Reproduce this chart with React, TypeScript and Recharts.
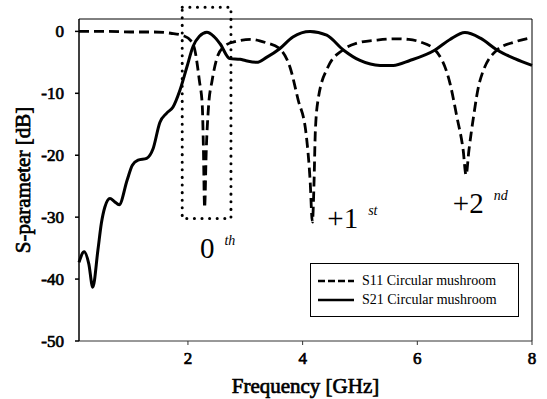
import React from "react";
import {
  LineChart,
  Line,
  XAxis,
  YAxis,
  Legend,
  Label,
  ReferenceArea,
  ReferenceDot,
  ReferenceLine,
} from "recharts";

// S11 of the circular mushroom cell (GHz / dB)
const s11Freq = [
  0.1, 0.6, 1.0, 1.4, 1.7, 1.92, 2.05, 2.12, 2.2, 2.25, 2.27, 2.29, 2.32, 2.36,
  2.42, 2.5, 2.62, 2.8, 3.1, 3.35, 3.6, 3.78, 3.92, 4.06, 4.13, 4.17, 4.2, 4.22,
  4.27, 4.44, 4.7, 4.95, 5.3, 5.6, 5.85, 6.05, 6.31, 6.57, 6.69, 6.8, 6.85, 6.9,
  6.98, 7.08, 7.39, 7.7, 8.0,
];
const s11Db = [
  0, 0, -0.1, -0.1, -0.3, -0.7, -1.5, -3, -8, -12, -19, -28.5, -19, -12, -8,
  -4.5, -2.5, -1.7, -1.3, -1.8, -2.8, -5.8, -11, -16.5, -24, -30.8, -24, -16.5,
  -11, -5.8, -3, -1.9, -1.4, -1.2, -1.3, -1.7, -3, -8.4, -13.8, -19.2, -23.2,
  -19.2, -13.8, -8.4, -3, -1.7, -1.0,
];

// S21 of the circular mushroom cell (GHz / dB)
const s21Freq = [
  0.1, 0.19, 0.27, 0.34, 0.43, 0.49, 0.55, 0.64, 0.72, 0.8, 0.94, 1.03, 1.13,
  1.28, 1.39, 1.51, 1.63, 1.74, 1.86, 1.98, 2.09, 2.2, 2.33, 2.45, 2.56, 2.73,
  2.91, 3.0, 3.2, 3.37, 3.6, 3.83, 4.13, 4.42, 4.71, 5.0, 5.35, 5.58, 5.87,
  6.31, 6.57, 6.83, 7.1, 7.39, 7.7, 8.0,
];
const s21Db = [
  -37.3, -35.6, -37.5, -41.3, -35.3, -31, -28.4, -27, -27.5, -28, -24, -21.6,
  -20.8, -20.5, -19, -14.7, -13.2, -12.2, -9.5, -5.8, -2.4, -0.8, -0.15, -0.8,
  -2, -4.4, -4.5, -4.7, -5, -4.2, -2.8, -0.9, 0, -0.6, -3, -4.7, -5.5, -5.5,
  -4.7, -3, -1.3, -0.2, -1.1, -3, -4.4, -5.5,
];

const freqTicks = [2, 4, 6, 8];
const dbTicks = [-50, -40, -30, -20, -10, 0];

const s11 = s11Freq.map((f, i) => ({ f, db: s11Db[i] }));
const s21 = s21Freq.map((f, i) => ({ f, db: s21Db[i] }));

const serif = "Liberation Serif";

// the serif family has no bold face here, so thicken the regular one
const heavy = { stroke: "#000", strokeWidth: 0.7, paintOrder: "stroke" } as const;

// mode label like "+1st", anchored at the dot's position (left / baseline)
const ModeLabel = ({ viewBox, main, sup }: any) => {
  const { x, y } = viewBox;
  return (
    <text x={x} y={y} fontFamily={serif} fill="#000">
      <tspan fontSize={29}>{main}</tspan>
      <tspan fontSize={14} fontStyle="italic" dx={10} dy={-13}>
        {sup}
      </tspan>
    </text>
  );
};

const FreqTick = ({ x, y, payload }: any) => (
  <text
    x={x}
    y={y}
    dy={13}
    textAnchor="middle"
    fontFamily={serif}
    fontSize={17}
    fill="#000"
    {...heavy}
  >
    {payload.value}
  </text>
);

const DbTick = ({ x, y, payload }: any) => (
  <text
    x={x}
    y={y}
    dy={6}
    textAnchor="end"
    fontFamily={serif}
    fontSize={17}
    fill="#000"
    {...heavy}
  >
    {payload.value}
  </text>
);

const LegendBox = () => (
  <div style={{ fontFamily: serif, fontSize: 14, color: "#000" }}>
    {[
      { name: "S11 Circular mushroom", dash: "7 3" },
      { name: "S21 Circular mushroom", dash: undefined },
    ].map((it, i) => (
      <div
        key={it.name}
        style={{
          display: "flex",
          alignItems: "center",
          height: 19,
          marginTop: i === 0 ? 7 : 0,
        }}
      >
        <svg width={44} height={10} style={{ marginLeft: 7 }}>
          <line
            x1={0}
            y1={5}
            x2={36}
            y2={5}
            stroke="#000"
            strokeWidth={2.5}
            strokeDasharray={it.dash}
          />
        </svg>
        <span>{it.name}</span>
      </div>
    ))}
  </div>
);

export default function App() {
  return (
    <div style={{ position: "absolute", left: 0, top: 0, background: "#fff" }}>
      <LineChart
        width={547}
        height={399}
        margin={{ top: 19, right: 15, left: 19, bottom: 28 }}
      >
        <XAxis
          dataKey="f"
          type="number"
          domain={[0.1, 8]}
          ticks={freqTicks}
          height={30}
          tickSize={4}
          tickMargin={6}
          stroke="#333"
          tick={<FreqTick />}
        >
          <Label
            content={({ viewBox }: any) => (
              <text
                x={viewBox.x + viewBox.width / 2}
                y={393}
                textAnchor="middle"
                fontFamily={serif}
                fontSize={21}
                fill="#000"
                {...heavy}
              >
                Frequency [GHz]
              </text>
            )}
          />
        </XAxis>
        <YAxis
          type="number"
          domain={[-50, 2]}
          ticks={dbTicks}
          width={60}
          tickSize={4}
          tickMargin={11}
          stroke="#000"
          strokeWidth={1.5}
          tick={<DbTick />}
        >
          <Label
            content={({ viewBox }: any) => {
              const cy = viewBox.y + viewBox.height / 2;
              return (
                <text
                  x={30}
                  y={cy}
                  transform={`rotate(-90 30 ${cy})`}
                  textAnchor="middle"
                  fontFamily={serif}
                  fontSize={21}
                  fill="#000"
                  {...heavy}
                >
                  S-parameter [dB]
                </text>
              );
            }}
          />
        </YAxis>

        {/* frame: top and right edges */}
        <ReferenceLine y={2} stroke="#000" strokeWidth={1} />
        <ReferenceLine x={8} stroke="#000" strokeWidth={1} />

        {/* dotted box around the zeroth-order resonance */}
        <ReferenceArea
          x1={1.9}
          x2={2.75}
          y1={-30.2}
          y2={3.9}
          ifOverflow="visible"
          fill="none"
          fillOpacity={0}
          stroke="#000"
          strokeWidth={3}
          strokeDasharray="0.1 7.5"
          strokeLinecap="round"
        />

        <Line
          data={s21}
          dataKey="db"
          type="monotone"
          stroke="#000"
          strokeWidth={3}
          dot={false}
          isAnimationActive={false}
          name="S21 Circular mushroom"
        />
        <Line
          data={s11}
          dataKey="db"
          type="monotone"
          stroke="#000"
          strokeWidth={2.8}
          strokeDasharray="10 5"
          dot={false}
          isAnimationActive={false}
          name="S11 Circular mushroom"
        />

        <ReferenceDot
          x={2.21}
          y={-36.6}
          r={0}
          ifOverflow="visible"
          label={<ModeLabel main="0" sup="th" />}
        />
        <ReferenceDot
          x={4.43}
          y={-31.8}
          r={0}
          ifOverflow="visible"
          label={<ModeLabel main="+1" sup="st" />}
        />
        <ReferenceDot
          x={6.62}
          y={-29.4}
          r={0}
          ifOverflow="visible"
          label={<ModeLabel main="+2" sup="nd" />}
        />

        <Legend
          layout="vertical"
          align="center"
          verticalAlign="middle"
          content={() => <LegendBox />}
          wrapperStyle={{
            left: 310,
            top: 263,
            width: 209,
            height: 54,
            border: "1.5px solid #000",
            background: "#fff",
            boxSizing: "border-box",
          }}
        />
      </LineChart>
    </div>
  );
}
